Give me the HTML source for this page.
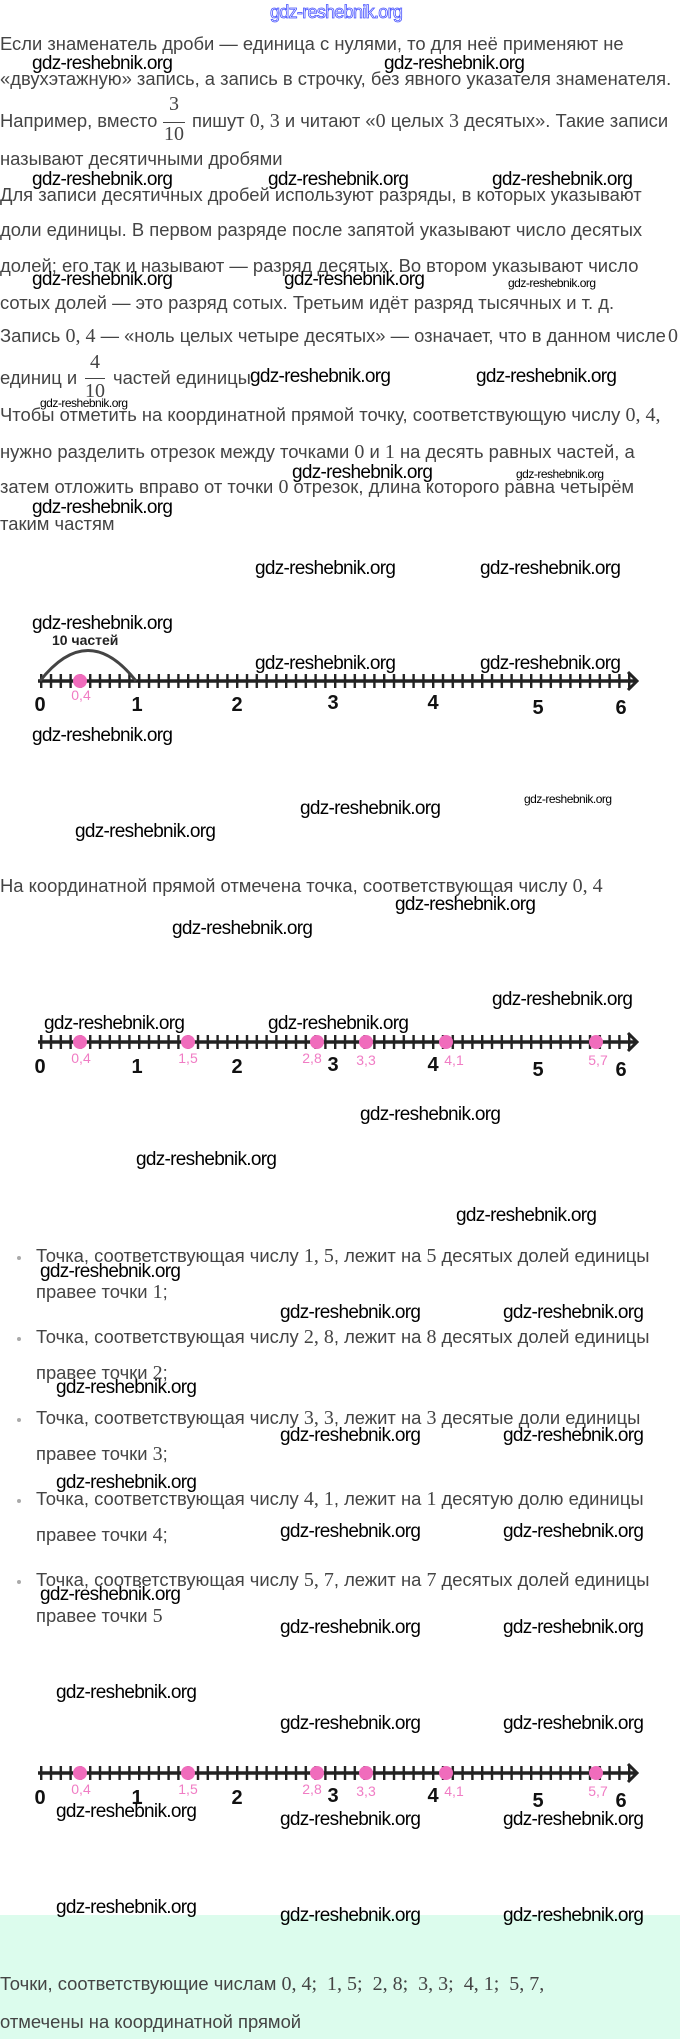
<!DOCTYPE html>
<html><head><meta charset="utf-8"><style>
body{margin:0;width:680px;height:2039px;background:#fff;position:relative;overflow:hidden;font-family:"Liberation Sans",sans-serif}
.t{position:absolute;font-size:18.4px;line-height:20px;color:#444;white-space:nowrap}
.m{font-family:"Liberation Serif",serif;font-size:20px}
.w{position:absolute;font-size:19px;line-height:20px;color:#000;white-space:nowrap;letter-spacing:-0.7px}
.s{position:absolute;font-size:12px;line-height:14px;color:#000;white-space:nowrap;letter-spacing:-0.5px}
.n{position:absolute;font-weight:bold;font-size:20px;line-height:22px;color:#111;transform:translateX(-50%)}
.p{position:absolute;font-size:14px;line-height:16px;color:#f07cc4;transform:translateX(-50%)}
.b{position:absolute;left:17px;width:4px;height:4px;background:#aaa;border-radius:2px}
.f{position:absolute;font-family:"Liberation Serif",serif;font-size:20px;color:#444;text-align:center;line-height:20px}
</style></head><body>
<div style="position:absolute;left:0;top:1915px;width:680px;height:124px;background:#dcfced"></div>
<svg width="680" height="2039" style="position:absolute;left:0;top:0">
<defs><pattern id="tk" patternUnits="userSpaceOnUse" x="40" y="0" width="9.8" height="20"><rect x="0" y="0" width="2.4" height="20" fill="#222"/></pattern>
<g id="ax"><rect x="39" y="-7" width="592" height="14" fill="url(#tk)"/><line x1="38" y1="0" x2="636" y2="0" stroke="#222" stroke-width="3.5"/><polyline points="628,-9 637,0 628,9" fill="none" stroke="#222" stroke-width="3"/></g></defs>
<use href="#ax" y="681"/>
<use href="#ax" y="1042"/>
<use href="#ax" y="1773"/>
<path d="M40 681 Q88 620 136 681" fill="none" stroke="#444" stroke-width="3"/>
<g fill="#f06cbc">
<circle cx="80" cy="681" r="7"/>
<circle cx="80" cy="1042" r="7"/><circle cx="188" cy="1042" r="7"/><circle cx="317" cy="1042" r="7"/><circle cx="366" cy="1042" r="7"/><circle cx="446" cy="1042" r="7"/><circle cx="596" cy="1042" r="7"/>
<circle cx="80" cy="1773" r="7"/><circle cx="188" cy="1773" r="7"/><circle cx="317" cy="1773" r="7"/><circle cx="366" cy="1773" r="7"/><circle cx="446" cy="1773" r="7"/><circle cx="596" cy="1773" r="7"/>
</g></svg>

<div style="position:absolute;left:270px;top:2px;font-size:18px;color:#fff;-webkit-text-stroke:0.8px #4a55ff;letter-spacing:-0.7px">gdz-reshebnik.org</div>

<div class="t" style="top:34px;left:0">Если знаменатель дроби — единица с нулями, то для неё применяют не</div>
<div class="t" style="top:69px;left:0">«двухэтажную» запись, а запись в строчку, без явного указателя знаменателя.</div>
<div class="t" style="top:111px;left:0">Например, вместо</div>
<div class="f" style="top:94px;left:163px;width:22px">3</div><div style="position:absolute;top:122px;left:163px;width:22px;height:1px;background:#444"></div><div class="f" style="top:124px;left:160px;width:28px">10</div>
<div class="t" style="top:111px;left:192px">пишут <span class="m">0, 3</span> и читают «<span class="m">0</span> целых <span class="m">3</span> десятых». Такие записи</div>
<div class="t" style="top:149px;left:0">называют десятичными дробями</div>
<div class="t" style="top:185px;left:0">Для записи десятичных дробей используют разряды, в которых указывают</div>
<div class="t" style="top:220px;left:0">доли единицы. В первом разряде после запятой указывают число десятых</div>
<div class="t" style="top:256px;left:0">долей; его так и называют — разряд десятых. Во втором указывают число</div>
<div class="t" style="top:293px;left:0">сотых долей — это разряд сотых. Третьим идёт разряд тысячных и т. д.</div>
<div class="t" style="top:326px;left:0;width:680px">Запись <span class="m">0, 4</span> — «ноль целых четыре десятых» — означает, что в данном числе <span class="m" style="position:absolute;right:2px">0</span></div>
<div class="t" style="top:368px;left:0">единиц и</div>
<div class="f" style="top:352px;left:85px;width:20px">4</div><div style="position:absolute;top:378px;left:85px;width:20px;height:1px;background:#444"></div><div class="f" style="top:381px;left:81px;width:28px">10</div>
<div class="t" style="top:368px;left:113px">частей единицы</div>
<div class="t" style="top:405px;left:0">Чтобы отметить на координатной прямой точку, соответствующую числу <span class="m">0, 4,</span></div>
<div class="t" style="top:442px;left:0">нужно разделить отрезок между точками <span class="m">0</span> и <span class="m">1</span> на десять равных частей, а</div>
<div class="t" style="top:477px;left:0">затем отложить вправо от точки <span class="m">0</span> отрезок, длина которого равна четырём</div>
<div class="t" style="top:514px;left:0">таким частям</div>

<div class="w" style="top:54px;left:32px">gdz-reshebnik.org</div><div class="w" style="top:54px;left:384px">gdz-reshebnik.org</div>
<div class="w" style="top:170px;left:32px">gdz-reshebnik.org</div><div class="w" style="top:170px;left:268px">gdz-reshebnik.org</div><div class="w" style="top:170px;left:492px">gdz-reshebnik.org</div>
<div class="w" style="top:270px;left:32px">gdz-reshebnik.org</div><div class="w" style="top:270px;left:284px">gdz-reshebnik.org</div><div class="s" style="top:276px;left:508px">gdz-reshebnik.org</div>
<div class="w" style="top:367px;left:250px">gdz-reshebnik.org</div><div class="w" style="top:367px;left:476px">gdz-reshebnik.org</div>
<div class="s" style="top:396px;left:40px">gdz-reshebnik.org</div>
<div class="w" style="top:463px;left:292px">gdz-reshebnik.org</div><div class="s" style="top:467px;left:516px">gdz-reshebnik.org</div>
<div class="w" style="top:498px;left:32px">gdz-reshebnik.org</div>

<div class="w" style="top:559px;left:255px">gdz-reshebnik.org</div><div class="w" style="top:559px;left:480px">gdz-reshebnik.org</div>
<div class="w" style="top:614px;left:32px">gdz-reshebnik.org</div>
<div style="position:absolute;top:632px;left:52px;font-weight:bold;font-size:14px;color:#222">10 частей</div>
<div class="w" style="top:654px;left:255px">gdz-reshebnik.org</div><div class="w" style="top:654px;left:480px">gdz-reshebnik.org</div>
<div class="p" style="top:687px;left:81px">0,4</div>
<div class="n" style="top:694px;left:40px">0</div><div class="n" style="top:694px;left:137px">1</div><div class="n" style="top:694px;left:237px">2</div><div class="n" style="top:692px;left:333px">3</div><div class="n" style="top:692px;left:433px">4</div><div class="n" style="top:697px;left:538px">5</div><div class="n" style="top:697px;left:621px">6</div>
<div class="w" style="top:726px;left:32px">gdz-reshebnik.org</div>
<div class="s" style="top:792px;left:524px">gdz-reshebnik.org</div>
<div class="w" style="top:799px;left:300px">gdz-reshebnik.org</div>
<div class="w" style="top:822px;left:75px">gdz-reshebnik.org</div>
<div class="t" style="top:876px;left:0">На координатной прямой отмечена точка, соответствующая числу <span class="m">0, 4</span></div>
<div class="w" style="top:895px;left:395px">gdz-reshebnik.org</div>
<div class="w" style="top:919px;left:172px">gdz-reshebnik.org</div>
<div class="w" style="top:990px;left:492px">gdz-reshebnik.org</div>
<div class="w" style="top:1014px;left:44px">gdz-reshebnik.org</div><div class="w" style="top:1014px;left:268px">gdz-reshebnik.org</div>
<div class="p" style="top:1050px;left:81px">0,4</div><div class="p" style="top:1050px;left:188px">1,5</div><div class="p" style="top:1050px;left:312px">2,8</div><div class="p" style="top:1052px;left:366px">3,3</div><div class="p" style="top:1052px;left:454px">4,1</div><div class="p" style="top:1052px;left:598px">5,7</div>
<div class="n" style="top:1056px;left:40px">0</div><div class="n" style="top:1056px;left:137px">1</div><div class="n" style="top:1056px;left:237px">2</div><div class="n" style="top:1054px;left:333px">3</div><div class="n" style="top:1054px;left:433px">4</div><div class="n" style="top:1059px;left:538px">5</div><div class="n" style="top:1059px;left:621px">6</div>
<div class="w" style="top:1105px;left:360px">gdz-reshebnik.org</div>
<div class="w" style="top:1150px;left:136px">gdz-reshebnik.org</div>
<div class="w" style="top:1206px;left:456px">gdz-reshebnik.org</div>

<div class="b" style="top:1256px"></div><div class="t" style="top:1246px;left:36px">Точка, соответствующая числу <span class="m">1, 5</span>, лежит на <span class="m">5</span> десятых долей единицы</div>
<div class="w" style="top:1262px;left:40px">gdz-reshebnik.org</div>
<div class="t" style="top:1282px;left:36px">правее точки <span class="m">1</span>;</div>
<div class="w" style="top:1303px;left:280px">gdz-reshebnik.org</div><div class="w" style="top:1303px;left:503px">gdz-reshebnik.org</div>
<div class="b" style="top:1337px"></div><div class="t" style="top:1327px;left:36px">Точка, соответствующая числу <span class="m">2, 8</span>, лежит на <span class="m">8</span> десятых долей единицы</div>
<div class="t" style="top:1363px;left:36px">правее точки <span class="m">2</span>;</div>
<div class="w" style="top:1378px;left:56px">gdz-reshebnik.org</div>
<div class="b" style="top:1418px"></div><div class="t" style="top:1408px;left:36px">Точка, соответствующая числу <span class="m">3, 3</span>, лежит на <span class="m">3</span> десятые доли единицы</div>
<div class="w" style="top:1426px;left:280px">gdz-reshebnik.org</div><div class="w" style="top:1426px;left:503px">gdz-reshebnik.org</div>
<div class="t" style="top:1444px;left:36px">правее точки <span class="m">3</span>;</div>
<div class="w" style="top:1473px;left:56px">gdz-reshebnik.org</div>
<div class="b" style="top:1499px"></div><div class="t" style="top:1489px;left:36px">Точка, соответствующая числу <span class="m">4, 1</span>, лежит на <span class="m">1</span> десятую долю единицы</div>
<div class="t" style="top:1525px;left:36px">правее точки <span class="m">4</span>;</div>
<div class="w" style="top:1522px;left:280px">gdz-reshebnik.org</div><div class="w" style="top:1522px;left:503px">gdz-reshebnik.org</div>
<div class="b" style="top:1580px"></div><div class="t" style="top:1570px;left:36px">Точка, соответствующая числу <span class="m">5, 7</span>, лежит на <span class="m">7</span> десятых долей единицы</div>
<div class="w" style="top:1585px;left:40px">gdz-reshebnik.org</div>
<div class="t" style="top:1606px;left:36px">правее точки <span class="m">5</span></div>
<div class="w" style="top:1618px;left:280px">gdz-reshebnik.org</div><div class="w" style="top:1618px;left:503px">gdz-reshebnik.org</div>

<div class="w" style="top:1683px;left:56px">gdz-reshebnik.org</div>
<div class="w" style="top:1714px;left:280px">gdz-reshebnik.org</div><div class="w" style="top:1714px;left:503px">gdz-reshebnik.org</div>
<div class="p" style="top:1781px;left:81px">0,4</div><div class="p" style="top:1781px;left:188px">1,5</div><div class="p" style="top:1781px;left:312px">2,8</div><div class="p" style="top:1783px;left:366px">3,3</div><div class="p" style="top:1783px;left:454px">4,1</div><div class="p" style="top:1783px;left:598px">5,7</div>
<div class="n" style="top:1787px;left:40px">0</div><div class="n" style="top:1787px;left:137px">1</div><div class="n" style="top:1787px;left:237px">2</div><div class="n" style="top:1785px;left:333px">3</div><div class="n" style="top:1785px;left:433px">4</div><div class="n" style="top:1790px;left:538px">5</div><div class="n" style="top:1790px;left:621px">6</div>
<div class="w" style="top:1802px;left:56px">gdz-reshebnik.org</div>
<div class="w" style="top:1810px;left:280px">gdz-reshebnik.org</div><div class="w" style="top:1810px;left:503px">gdz-reshebnik.org</div>
<div class="w" style="top:1898px;left:56px">gdz-reshebnik.org</div>
<div class="w" style="top:1906px;left:280px">gdz-reshebnik.org</div><div class="w" style="top:1906px;left:503px">gdz-reshebnik.org</div>
<div class="t" style="top:1974px;left:0">Точки, соответствующие числам <span class="m">0, 4;&nbsp; 1, 5;&nbsp; 2, 8;&nbsp; 3, 3;&nbsp; 4, 1;&nbsp; 5, 7,</span></div>
<div class="t" style="top:2012px;left:0">отмечены на координатной прямой</div>
</body></html>
